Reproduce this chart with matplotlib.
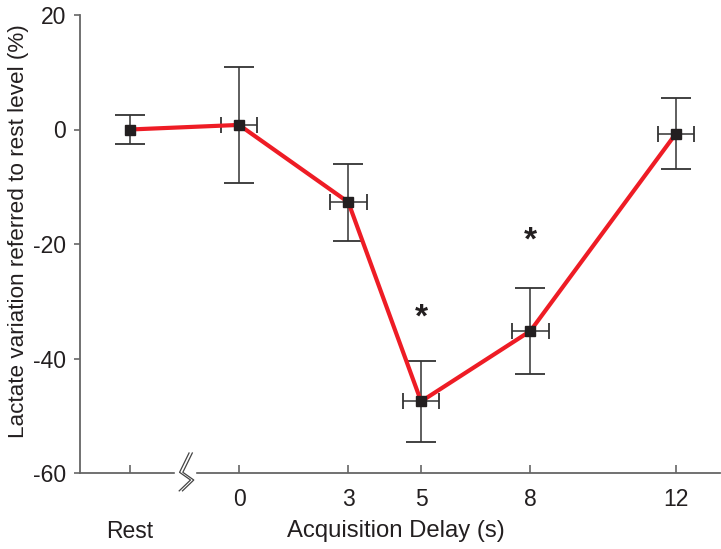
import numpy as np
import matplotlib.pyplot as plt
from matplotlib.patches import Rectangle
from matplotlib.transforms import blended_transform_factory

plt.rcParams['font.family'] = ['Liberation Sans', 'DejaVu Sans']
plt.rcParams['axes.unicode_minus'] = False

# delay in seconds (Rest is drawn at -3 on the axis)
delay = [-3, 0, 3, 5, 8, 12]
lactate = [0.0, 0.8, -12.7, -47.5, -35.2, -0.7]
y_err = [2.5, 10.2, 6.7, 7.0, 7.5, 6.2]
x_err = [0, 0.5, 0.5, 0.5, 0.5, 0.5]
star_x = [5, 8]
star_y = [-33.0, -19.5]
tick_pos = [-3, 0, 3, 5, 8, 12]
tick_lab = ['', '0', '3', '5', '8', '12']

fig = plt.figure(figsize=(7.21, 5.49), dpi=100)
ax = fig.add_axes([80/721, 1 - 473/549, 640/721, 458/549])

ecol = '#333333'
# vertical error bars
ax.errorbar(delay, lactate, yerr=y_err, fmt='none', ecolor=ecol, elinewidth=1.1,
            capsize=10.5, capthick=1.3, zorder=2)
# horizontal error bars (shorter caps)
ax.errorbar(delay[1:], lactate[1:], xerr=x_err[1:], fmt='none', ecolor=ecol,
            elinewidth=1.1, capsize=5.5, capthick=1.3, zorder=2)
ax.plot(delay, lactate, color='#ee1c25', lw=3, zorder=3)
ax.plot(delay, lactate, 's', color='#231f20', ms=7.5, zorder=4)

for sx, sy in zip(star_x, star_y):
    ax.text(sx, sy, '*', ha='center', va='center', fontsize=24, fontweight='bold', color='#231f20')

ax.set_xlim(-4.37, 13.21)
ax.set_ylim(-60, 20)
ax.set_yticks([20, 0, -20, -40, -60])
ax.set_xticks(tick_pos)
ax.set_xticklabels(tick_lab)

for s in ['top', 'right']:
    ax.spines[s].set_visible(False)
for s in ['left', 'bottom']:
    ax.spines[s].set_color('#666666')
    ax.spines[s].set_linewidth(1.3)

ax.tick_params(axis='y', direction='out', length=4, width=1.2, color='#666666',
               labelsize=16.5, pad=6, labelcolor='#231f20')
ax.tick_params(axis='x', direction='in', length=6, width=1.2, color='#666666',
               labelsize=16.5, pad=11, labelcolor='#231f20')

ax.set_ylabel('Lactate variation referred to rest level (%)', fontsize=16.2,
              color='#231f20')
ax.yaxis.set_label_coords(-0.080, 0.529)

trans = blended_transform_factory(ax.transData, ax.transAxes)
ax.text(-3, -0.127, 'Rest', transform=trans, ha='center', va='center', fontsize=16.5, color='#231f20')
ax.text(4.31, -0.127, 'Acquisition Delay (s)', transform=trans, ha='center', va='center',
        fontsize=17.2, color='#231f20')

# axis break on the x-axis
ax.add_patch(Rectangle((-1.76, -0.01), 0.55, 0.02, transform=trans, color='white',
                       clip_on=False, zorder=5))
zx = np.array([-1.33, -1.59, -1.29, -1.60])
zy = np.array([0.0437, 0.0015, -0.0153, -0.039])
for off in [-0.045, 0.045]:
    ax.plot(zx + off, zy, color='#444444', lw=0.9, transform=trans, clip_on=False, zorder=6)

fig.savefig('out.png', dpi=100)
